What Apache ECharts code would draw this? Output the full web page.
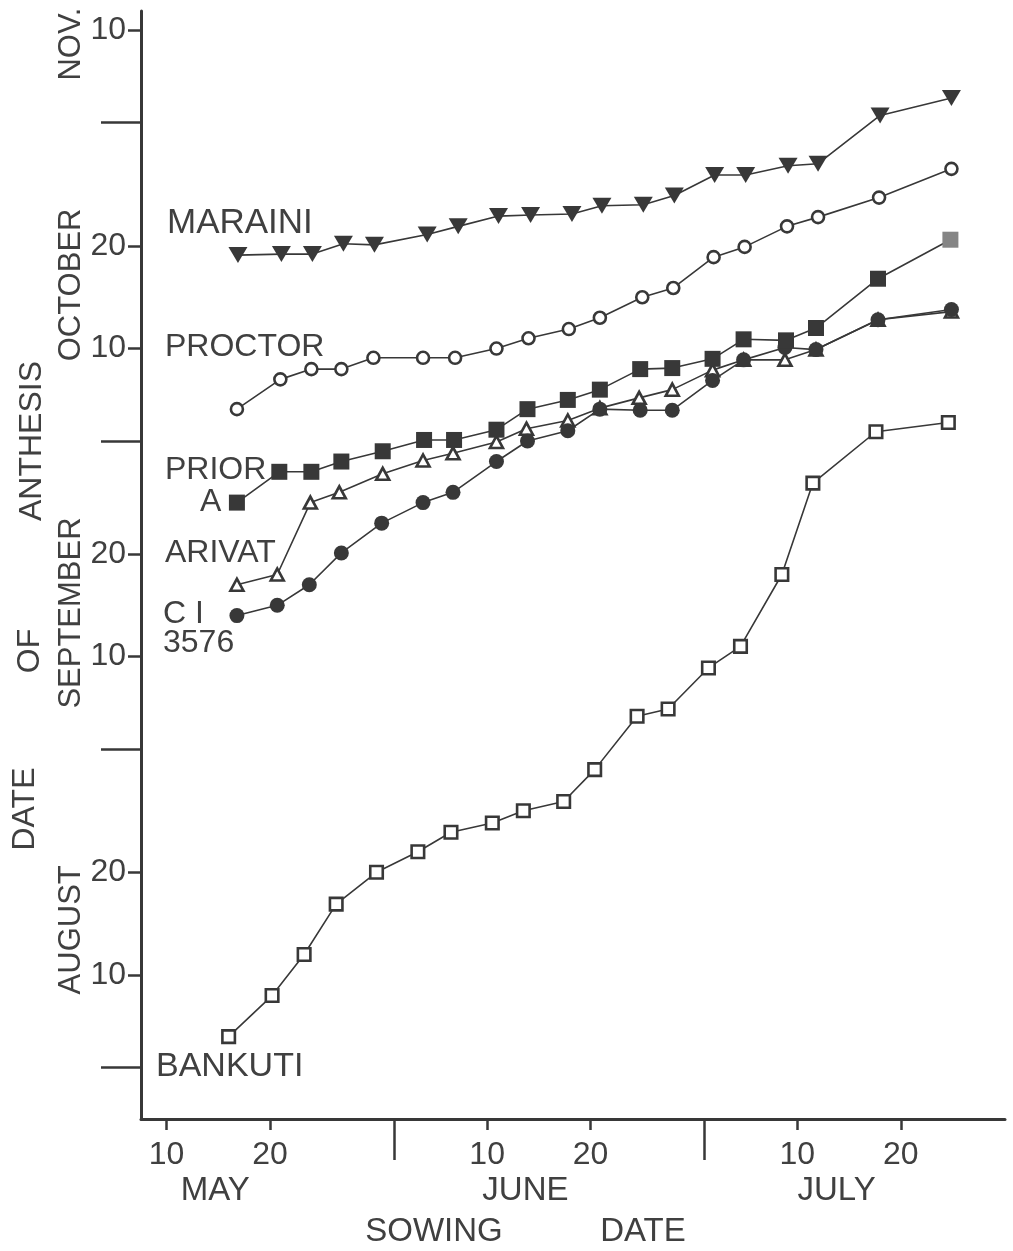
<!DOCTYPE html>
<html><head><meta charset="utf-8">
<script src="https://cdn.jsdelivr.net/npm/echarts@6/dist/echarts.min.js"></script>
<style>html,body{margin:0;padding:0;background:#fff}#c{width:1013px;height:1251px}</style>
</head><body><div id="c"></div>
<script>
// Sowing date: day counted from 1 May (1 May = 1). Anthesis date: day counted from 1 Aug (1 Aug = 1).
const sowMaraini  = [16.9, 21.1, 24.1, 27.1, 30.1, 35.2, 38.2, 42.1, 45.2, 49.2, 52.1, 56.1, 59.1, 63.0, 66.0, 70.1, 73.0, 79.0, 85.9];
const anthMaraini = [80.1, 80.2, 80.2, 81.2, 81.1, 82.1, 82.9, 83.9, 84.0, 84.1, 84.9, 85.0, 85.9, 87.9, 87.9, 88.8, 89.0, 93.7, 95.4];
const sowProctor  = [16.8, 21.0, 24.0, 26.9, 30.0, 34.8, 37.9, 41.9, 45.0, 48.9, 51.9, 56.0, 59.0, 62.9, 65.9, 70.0, 73.0, 78.9, 85.9];
const anthProctor = [65.1, 68.0, 69.0, 69.0, 70.1, 70.1, 70.1, 71.0, 72.0, 72.9, 74.0, 76.0, 76.9, 79.9, 80.9, 82.9, 83.8, 85.7, 88.5];
const sowPrior    = [16.8, 20.9, 24.0, 26.9, 30.9, 34.9, 37.8, 41.9, 44.9, 48.8, 51.9, 55.8, 58.9, 62.8, 65.8, 69.9, 72.8, 78.8, 85.8];
const anthPrior   = [56.0, 59.0, 59.0, 60.0, 61.0, 62.1, 62.1, 63.1, 65.1, 66.0, 67.0, 69.0, 69.1, 70.0, 71.9, 71.8, 73.0, 77.8, 81.6];
const sowArivat   = [16.8, 20.7, 23.9, 26.7, 30.9, 34.8, 37.7, 41.9, 44.8, 48.8, 51.9, 55.7, 58.9, 62.8, 65.8, 69.8, 72.8, 78.8, 85.9];
const anthArivat  = [48.0, 49.0, 56.0, 57.0, 58.8, 60.1, 60.8, 61.9, 63.2, 64.0, 65.2, 66.2, 67.0, 68.9, 69.9, 69.9, 70.9, 73.8, 74.6];
const sowCi       = [16.8, 20.7, 23.8, 26.9, 30.8, 34.8, 37.7, 41.9, 44.9, 48.8, 51.9, 55.8, 58.9, 62.8, 65.8, 69.8, 72.8, 78.8, 85.9];
const anthCi      = [45.0, 46.0, 48.0, 51.1, 54.0, 56.0, 57.0, 60.0, 62.0, 63.0, 65.1, 65.0, 65.0, 67.9, 69.9, 71.1, 70.9, 73.8, 74.8];
const sowBankuti  = [16.0, 20.2, 23.3, 26.4, 30.3, 34.3, 37.5, 41.5, 44.5, 48.4, 51.4, 55.5, 58.5, 62.4, 65.5, 69.5, 72.5, 78.6, 85.6];
const anthBankuti = [4.0, 8.0, 12.0, 16.9, 20.0, 22.0, 23.9, 24.8, 26.0, 26.9, 30.0, 35.2, 35.9, 39.9, 42.0, 49.0, 57.9, 62.9, 63.8];

// Axis ticks and labels
const xTickDays   = [10, 20, 41, 51, 71, 81];
const xMonthStart = [32, 62];
const xMonthPos   = [14.7, 44.7, 74.8];
const xMonthNames = ['MAY', 'JUNE', 'JULY'];
const sowMonthLen = [31, 30, 31];
const yTickDays   = [10, 20, 41, 51, 71, 81, 102];
const yMonthStart = [1, 32, 62, 93];
const yMonthPos   = [14.4, 45.25, 77.2, 100.65];
const yMonthNames = ['AUGUST', 'SEPTEMBER', 'OCTOBER', 'NOV.'];
const anthMonthLen = [31, 30, 31, 30];

const xMin = 7.524, xMax = 91.08, yMin = -4.02, yMax = 103.87;
const INK = '#383838';
const TXT = '#404040';
const FONT = "'Liberation Sans', Arial, sans-serif";
const NUMFONT = "'Liberation Sans Narrow', 'Liberation Sans', Arial, sans-serif";

function dayOfMonth(d, lens) { let r = Math.round(d); for (const L of lens) { if (r <= L) return r; r -= L; } return r; }
function pairs(xs, ys) { return xs.map((x, i) => [x, ys[i]]); }

const baseX = { type: 'value', min: xMin, max: xMax, position: 'bottom', splitLine: { show: false },
  axisLine: { show: false, onZero: false } };
const baseY = { type: 'value', min: yMin, max: yMax, position: 'left', splitLine: { show: false },
  axisLine: { show: false, onZero: false } };

const xAxes = [
  Object.assign({}, baseX, {
    axisLine: { show: true, onZero: false, lineStyle: { color: INK, width: 3 } },
    axisTick: { show: true, customValues: xTickDays, length: 11, lineStyle: { color: INK, width: 2.5 } },
    axisLabel: { show: true, customValues: xTickDays, margin: 20, fontSize: 32, fontFamily: NUMFONT, color: TXT,
      formatter: v => String(dayOfMonth(v, sowMonthLen)) }
  }),
  Object.assign({}, baseX, {
    axisTick: { show: true, customValues: xMonthStart, length: 41, lineStyle: { color: INK, width: 2.5 } },
    axisLabel: { show: false }
  }),
  Object.assign({}, baseX, {
    axisTick: { show: false },
    axisLabel: { show: true, customValues: xMonthPos, margin: 55, fontSize: 33, fontFamily: FONT, color: TXT,
      formatter: v => xMonthNames[xMonthPos.indexOf(v)] || '' }
  })
];
const yAxes = [
  Object.assign({}, baseY, {
    axisLine: { show: true, onZero: false, lineStyle: { color: INK, width: 3 } },
    axisTick: { show: true, customValues: yTickDays, length: 13, lineStyle: { color: INK, width: 2.5 } },
    axisLabel: { show: true, customValues: yTickDays, margin: 15, fontSize: 32, fontFamily: NUMFONT, color: TXT,
      formatter: v => String(dayOfMonth(v, anthMonthLen)) }
  }),
  Object.assign({}, baseY, {
    axisTick: { show: true, customValues: yMonthStart, length: 40, lineStyle: { color: INK, width: 2.5 } },
    axisLabel: { show: false }
  }),
  Object.assign({}, baseY, {
    axisTick: { show: false },
    axisLabel: { show: true, customValues: yMonthPos, margin: 54, rotate: 90, fontSize: 31, fontFamily: FONT, color: TXT,
      formatter: v => yMonthNames[yMonthPos.indexOf(v)] || '' }
  })
];

function lineSeries(name, data, symbol, size, filled, extra) {
  return Object.assign({
    name, type: 'line', xAxisIndex: 0, yAxisIndex: 0, data,
    symbol, symbolSize: size, showAllSymbol: true,
    lineStyle: { color: INK, width: 1.6 },
    itemStyle: filled ? { color: INK, borderWidth: 0 } : { color: '#ffffff', borderColor: INK, borderWidth: 2.6 },
    emphasis: { disabled: true }
  }, extra || {});
}

const priorData = pairs(sowPrior, anthPrior).map((p, i, arr) =>
  i === arr.length - 1 ? { value: p, itemStyle: { color: '#858585' } } : p);

const series = [
  lineSeries('BANKUTI', pairs(sowBankuti, anthBankuti), 'rect', 12.5, false, { z: 2 }),
  lineSeries('ARIVAT', pairs(sowArivat, anthArivat), 'triangle', [13, 12], false, { z: 3 }),
  lineSeries('CI 3576', pairs(sowCi, anthCi), 'circle', 15, true, { z: 4 }),
  lineSeries('PRIOR A', priorData, 'rect', 16, true, { z: 5 }),
  lineSeries('PROCTOR', pairs(sowProctor, anthProctor), 'circle', 12, false, { z: 6 }),
  lineSeries('MARAINI', pairs(sowMaraini, anthMaraini), 'triangle', [19, 16], true, { z: 7, symbolRotate: 180 })
];

function txt(text, x, y, size, opts) {
  return Object.assign({ type: 'text', x, y, silent: true,
    style: Object.assign({ text, font: size + 'px ' + FONT, fill: TXT, align: 'left', verticalAlign: 'middle' },
      (opts && opts.style) || {}) }, (opts && opts.el) || {});
}
const graphics = [
  txt('MARAINI', 167, 223, 35),
  txt('PROCTOR', 165, 347, 32),
  txt('PRIOR', 165, 470, 32),
  txt('A', 200, 502, 32),
  txt('ARIVAT', 165, 553, 32),
  txt('C I', 163, 614, 32),
  txt('3576', 163, 643, 32),
  txt('BANKUTI', 156, 1067, 34),
  txt('SOWING', 434, 1232, 33, { style: { align: 'center' } }),
  txt('DATE', 643, 1232, 33, { style: { align: 'center' } }),
  txt('ANTHESIS', 32, 441, 32, { style: { align: 'center' }, el: { rotation: Math.PI / 2 } }),
  txt('OF', 30, 651, 32, { style: { align: 'center' }, el: { rotation: Math.PI / 2 } }),
  txt('DATE', 25, 809, 32, { style: { align: 'center' }, el: { rotation: Math.PI / 2 } })
];

const chart = echarts.init(document.getElementById('c'), null, { renderer: 'canvas' });
chart.setOption({
  backgroundColor: '#ffffff',
  animation: false,
  grid: { left: 141, right: 8, top: 11, bottom: 132, containLabel: false, outerBoundsMode: 'none' },
  xAxis: xAxes,
  yAxis: yAxes,
  series,
  graphic: graphics
});
</script></body></html>
